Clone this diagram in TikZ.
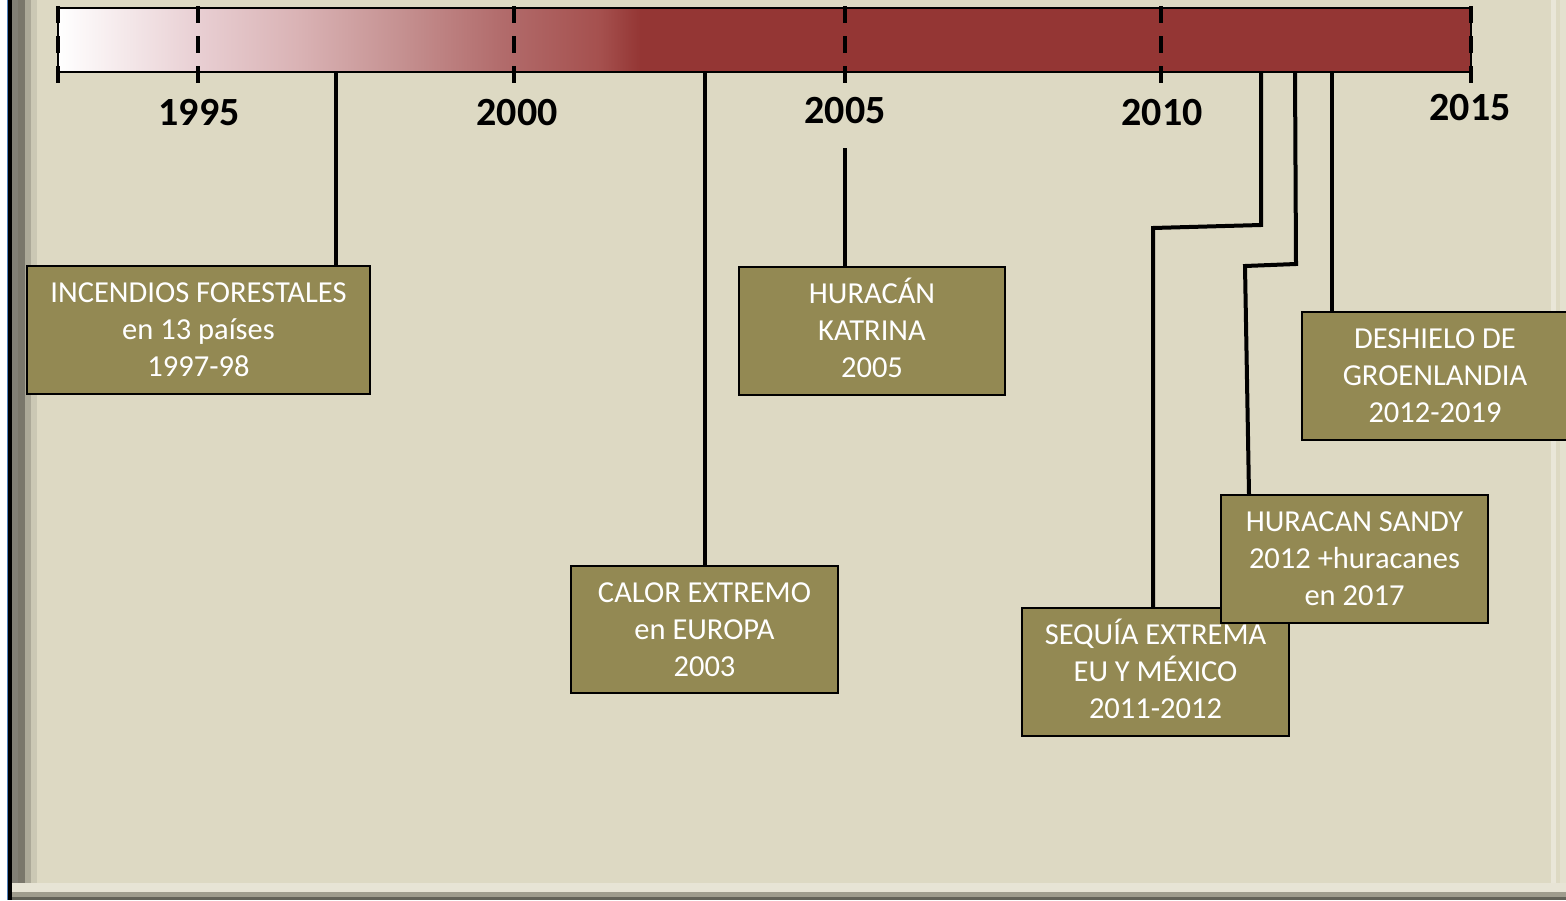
\documentclass[tikz,border=0pt]{standalone}
\usepackage{fontspec}
\setmainfont{Carlito}
\definecolor{bg}{RGB}{221,217,195}
\definecolor{olivebox}{RGB}{147,137,83}
\definecolor{barred}{RGB}{148,54,52}
\definecolor{gA}{RGB}{232,206,210}
\definecolor{gB}{RGB}{217,178,180}
\definecolor{gC}{RGB}{197,145,145}
\definecolor{gD}{RGB}{178,108,108}
\definecolor{gE}{RGB}{165,80,78}
\definecolor{frameblue}{RGB}{79,129,189}
\tikzset{
  evbox/.style={draw=black, line width=1.5pt, fill=olivebox, text=white,
    font=\fontsize{30.5}{37}\selectfont, align=center, minimum height=128pt, inner sep=0pt,
    text height=94pt, text depth=0.4pt},
  yearlbl/.style={font=\fontsize{40}{46}\selectfont\bfseries, inner sep=0pt},
  conn/.style={line width=4pt},
  ticklne/.style={line width=4pt, dash pattern=on 17pt off 13pt},
}
\begin{document}
\begin{tikzpicture}[x=1pt,y=-1pt]
\useasboundingbox (0,0) rectangle (1566,900);
% background
\fill[bg] (0,0) rectangle (1566,900);
% left frame
\fill[white] (0,0) rectangle (7,900);
\fill[frameblue] (6.5,0) rectangle (8,900);
\fill[black] (8,0) rectangle (12,900);
\fill[black!70!olivebox!60] (12,0) rectangle (18,900);
\fill[black!45!bg] (18,0) rectangle (25,900);
\fill[black!22!bg] (25,0) rectangle (31,900);
\fill[black!8!bg] (31,0) rectangle (37,900);
% right and bottom frame
\fill[white!35!bg] (1551,0) rectangle (1556,883);
\fill[white!20!bg] (1560,0) rectangle (1566,883);
\fill[white!30!bg] (12,883) rectangle (1566,892);
\fill[black!28!bg] (12,892) rectangle (1566,897);
\fill[black!55!bg] (12,897) rectangle (1566,900);
% bar
\shade[left color=white, right color=gA] (58,8) rectangle (200.5,72);
\shade[left color=gA, right color=gB] (200,8) rectangle (300.5,72);
\shade[left color=gB, right color=gC] (300,8) rectangle (400.5,72);
\shade[left color=gC, right color=gD] (400,8) rectangle (500.5,72);
\shade[left color=gD, right color=gE] (500,8) rectangle (600.5,72);
\shade[left color=gE, right color=barred] (600,8) rectangle (640.5,72);
\fill[barred] (640,8) rectangle (1471,72);
\draw[line width=2pt] (58,8) rectangle (1471,72);
% ticks
\foreach \tx in {58,198,514,845,1161,1471}{
  \draw[ticklne] (\tx,6) -- (\tx,87);
}
% attachment coordinates
\coordinate (a1) at (336,72);
\coordinate (a2) at (705,72);
\coordinate (a3) at (845,148);
\coordinate (a4) at (1261,72);
\coordinate (a4b) at (1261,225);
\coordinate (a4c) at (1153,228);
\coordinate (a5) at (1295,72);
\coordinate (a5b) at (1296,264);
\coordinate (a5c) at (1245,266);
\coordinate (a6) at (1332,72);
% year labels
\node[yearlbl] (y1995) at (199,113) {1995};
\node[yearlbl] (y2000) at (517,113) {2000};
\node[yearlbl] (y2005) at (845,111) {2005};
\node[yearlbl] (y2010) at (1162,113) {2010};
\node[yearlbl] (y2015) at (1470,108) {2015};
% boxes
\node[evbox, minimum width=343pt] (incendios) at (198.5,330) {INCENDIOS FORESTALES\\en 13 países\\1997-98};
\node[evbox, minimum width=267pt, minimum height=127pt] (calor) at (704.5,629.5) {CALOR EXTREMO\\en EUROPA\\2003};
\node[evbox, minimum width=266pt] (katrina) at (872,331) {HURACÁN\\KATRINA\\2005};
\node[evbox, minimum width=267pt] (sequia) at (1155.5,672) {SEQUÍA EXTREMA\\EU Y MÉXICO\\2011-2012};
\node[evbox, minimum width=267pt] (sandy) at (1354.5,559) {HURACAN SANDY\\2012 +huracanes\\en 2017};
\node[evbox, minimum width=266pt] (deshielo) at (1435,376) {DESHIELO DE\\GROENLANDIA\\2012-2019};
% connectors
\draw[conn] (a1) -- (a1 |- incendios.north);
\draw[conn] (a2) -- (a2 |- calor.north);
\draw[conn] (a3) -- (a3 |- katrina.north);
\draw[conn] (a4) -- (a4b) -- (a4c) -- (a4c |- sequia.north);
\draw[conn] (a5) -- (a5b) -- (a5c) -- ([xshift=4pt]a5c |- sandy.north);
\draw[conn] (a6) -- (a6 |- deshielo.north);
\end{tikzpicture}
\end{document}
